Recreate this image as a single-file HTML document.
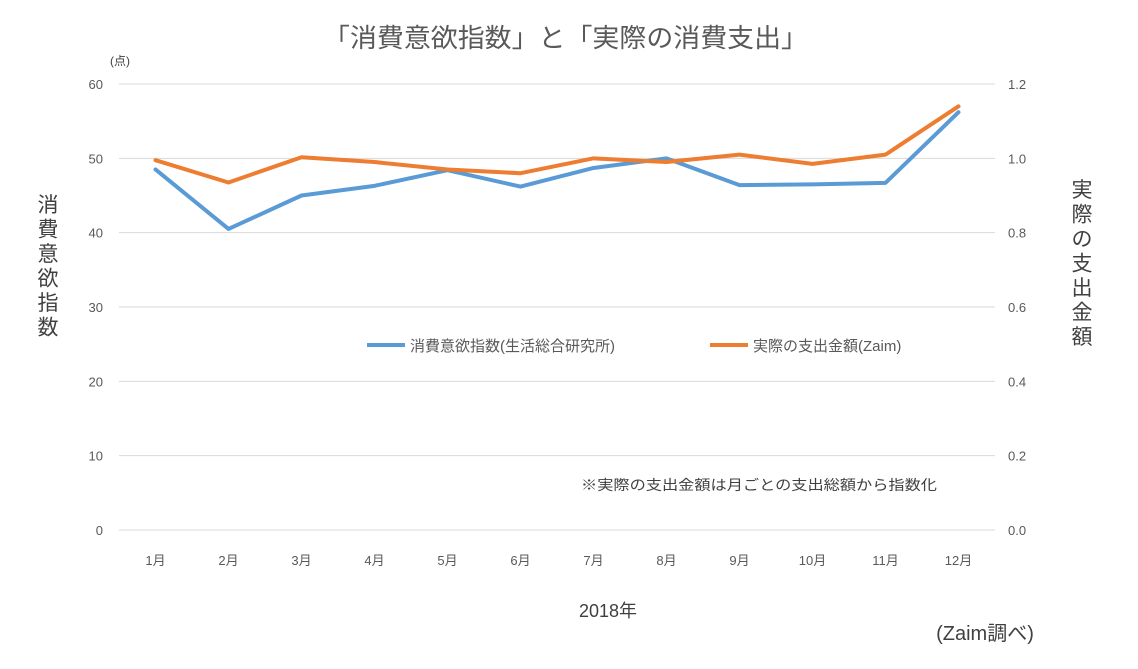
<!DOCTYPE html>
<html><head><meta charset="utf-8">
<style>
body{margin:0;background:#fff;width:1138px;height:664px;overflow:hidden;font-family:"Liberation Sans","Noto Sans CJK JP",sans-serif;}
svg text{font-family:"Liberation Sans","Noto Sans CJK JP",sans-serif;}
</style></head>
<body>
<svg id="chart" width="1138" height="664">
<text x="323" y="47" font-size="26" fill="#595959" textLength="485" lengthAdjust="spacingAndGlyphs">「消費意欲指数」と「実際の消費支出」</text>
<text x="120" y="65" text-anchor="middle" font-size="12" fill="#404040">(点)</text>
<g id="grid"></g><g id="lticks"></g><g id="rticks"></g><g id="xticks"></g><g id="series"></g>
<text x="48" y="272" font-size="21" fill="#404040" text-anchor="middle"><tspan x="48" dy="-60">消</tspan><tspan x="48" dy="24.5">費</tspan><tspan x="48" dy="24.5">意</tspan><tspan x="48" dy="24.5">欲</tspan><tspan x="48" dy="24.5">指</tspan><tspan x="48" dy="24.5">数</tspan></text>
<text x="1082" y="262" font-size="21" fill="#404040" text-anchor="middle"><tspan x="1082" dy="-65">実</tspan><tspan x="1082" dy="24.5">際</tspan><tspan x="1082" dy="24.5">の</tspan><tspan x="1082" dy="24.5">支</tspan><tspan x="1082" dy="24.5">出</tspan><tspan x="1082" dy="24.5">金</tspan><tspan x="1082" dy="24.5">額</tspan></text>
<g>
<line x1="367" y1="345" x2="405" y2="345" stroke="#5B9BD5" stroke-width="4"/>
<text x="410" y="351" font-size="15" fill="#595959">消費意欲指数(生活総合研究所)</text>
<line x1="710" y1="345" x2="748" y2="345" stroke="#ED7D31" stroke-width="4"/>
<text x="753" y="351" font-size="15" fill="#595959">実際の支出金額(Zaim)</text>
</g>
<text x="581" y="490" font-size="14" fill="#404040" textLength="356" lengthAdjust="spacingAndGlyphs">※実際の支出金額は月ごとの支出総額から指数化</text>
<text x="608" y="617" text-anchor="middle" font-size="18" fill="#404040">2018年</text>
<text x="985" y="640" text-anchor="middle" font-size="20" fill="#404040">(Zaim調べ)</text>
</svg>
<script>
const months=["1月","2月","3月","4月","5月","6月","7月","8月","9月","10月","11月","12月"];
const consumerIndex=[48.5,40.5,45.0,46.3,48.4,46.2,48.7,50.0,46.4,46.5,46.7,56.2];
const spending=[0.995,0.935,1.003,0.99,0.97,0.96,1.0,0.99,1.01,0.985,1.01,1.14];
const leftTicks=[0,10,20,30,40,50,60];
const rightTicks=["0.0","0.2","0.4","0.6","0.8","1.0","1.2"];
const NS="http://www.w3.org/2000/svg";
const L=119,R=995,T=84,B=530;
const bw=(R-L)/months.length;
const x=i=>L+bw*(i+0.5);
const yl=v=>B-(v/60)*(B-T);
const yr=v=>B-(v/1.2)*(B-T);
function mk(tag,attrs,parent){const e=document.createElementNS(NS,tag);for(const k in attrs)e.setAttribute(k,attrs[k]);document.getElementById(parent).appendChild(e);return e;}
leftTicks.forEach((v,i)=>{
 const g=mk("line",{x1:L,x2:R,y1:yl(v),y2:yl(v),stroke:"#D9D9D9","stroke-width":1},"grid");
 
 
 const t=mk("text",{x:103,y:yl(v)+5,"text-anchor":"end","font-size":13,fill:"#595959"},"lticks");
 t.textContent=v;
 
 
 const r=mk("text",{x:1008,y:yl(v)+5,"font-size":13,fill:"#595959"},"rticks");
 r.textContent=rightTicks[i];
 
 
});
months.forEach((m,i)=>{
 const t=mk("text",{x:x(i),y:565,"text-anchor":"middle","font-size":13,fill:"#595959"},"xticks");
 t.textContent=m;
 
 
});
const p1=mk("polyline",{points:consumerIndex.map((v,i)=>x(i)+","+yl(v)).join(" "),fill:"none",stroke:"#5B9BD5","stroke-width":4,"stroke-linejoin":"round","stroke-linecap":"round"},"series");


const p2=mk("polyline",{points:spending.map((v,i)=>x(i)+","+yr(v)).join(" "),fill:"none",stroke:"#ED7D31","stroke-width":4,"stroke-linejoin":"round","stroke-linecap":"round"},"series");


</script>
</body></html>
